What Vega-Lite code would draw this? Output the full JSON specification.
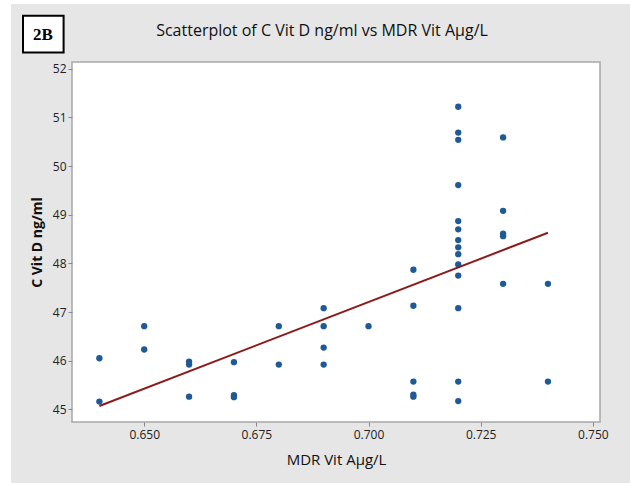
{
  "$schema": "https://vega.github.io/schema/vega-lite/v6.json",
  "width": 528,
  "height": 360,
  "autosize": "none",
  "padding": {"left": 72, "top": 62, "right": 30, "bottom": 61},
  "background": "#e6e6e6",
  "config": {
    "view": {"fill": "white", "stroke": "#a8a8a8", "strokeWidth": 1.5},
    "font": "Open Sans"
  },
  "title": {
    "text": "Scatterplot of C Vit D ng/ml vs MDR Vit Aμg/L",
    "fontSize": 16,
    "fontWeight": "normal",
    "font": "Open Sans",
    "color": "#111111",
    "anchor": "middle",
    "frame": "group",
    "baseline": "alphabetic",
    "offset": -52,
    "dx": -14
  },
  "datasets": {
    "points": [
      {"mdr": 0.64, "vitd": 46.05}, {"mdr": 0.64, "vitd": 45.16},
      {"mdr": 0.65, "vitd": 46.71}, {"mdr": 0.65, "vitd": 46.23},
      {"mdr": 0.66, "vitd": 45.98}, {"mdr": 0.66, "vitd": 45.92}, {"mdr": 0.66, "vitd": 45.26},
      {"mdr": 0.67, "vitd": 45.97}, {"mdr": 0.67, "vitd": 45.29}, {"mdr": 0.67, "vitd": 45.25},
      {"mdr": 0.68, "vitd": 46.71}, {"mdr": 0.68, "vitd": 45.92},
      {"mdr": 0.69, "vitd": 47.08}, {"mdr": 0.69, "vitd": 46.71}, {"mdr": 0.69, "vitd": 46.27}, {"mdr": 0.69, "vitd": 45.92},
      {"mdr": 0.70, "vitd": 46.71},
      {"mdr": 0.71, "vitd": 47.87}, {"mdr": 0.71, "vitd": 47.13}, {"mdr": 0.71, "vitd": 45.57}, {"mdr": 0.71, "vitd": 45.30}, {"mdr": 0.71, "vitd": 45.26},
      {"mdr": 0.72, "vitd": 51.22}, {"mdr": 0.72, "vitd": 50.69}, {"mdr": 0.72, "vitd": 50.54}, {"mdr": 0.72, "vitd": 49.61},
      {"mdr": 0.72, "vitd": 48.87}, {"mdr": 0.72, "vitd": 48.70}, {"mdr": 0.72, "vitd": 48.48}, {"mdr": 0.72, "vitd": 48.33},
      {"mdr": 0.72, "vitd": 48.19}, {"mdr": 0.72, "vitd": 47.98}, {"mdr": 0.72, "vitd": 47.75}, {"mdr": 0.72, "vitd": 47.08},
      {"mdr": 0.72, "vitd": 45.57}, {"mdr": 0.72, "vitd": 45.17},
      {"mdr": 0.73, "vitd": 50.59}, {"mdr": 0.73, "vitd": 49.08}, {"mdr": 0.73, "vitd": 48.61}, {"mdr": 0.73, "vitd": 48.56}, {"mdr": 0.73, "vitd": 47.58},
      {"mdr": 0.74, "vitd": 47.58}, {"mdr": 0.74, "vitd": 45.57}
    ],
    "fit": [
      {"mdr": 0.64, "vitd": 45.07},
      {"mdr": 0.74, "vitd": 48.63}
    ],
    "one": [{"label": "2B"}]
  },
  "encoding": {
    "x": {
      "field": "mdr",
      "type": "quantitative",
      "scale": {"domain": [0.6339, 0.7516], "nice": false, "zero": false},
      "axis": {
        "values": [0.65, 0.675, 0.7, 0.725, 0.75],
        "format": ".3f",
        "title": "MDR Vit Aμg/L",
        "titleFontSize": 15,
        "titleFontWeight": "normal",
        "titleColor": "#111111",
        "titlePadding": 12,
        "labelFontSize": 12,
        "labelColor": "#222222",
        "labelPadding": 3,
        "labelFlush": false,
        "tickSize": 4,
        "tickColor": "#888888",
        "domain": false,
        "grid": false
      }
    },
    "y": {
      "field": "vitd",
      "type": "quantitative",
      "scale": {"domain": [44.74, 52.14], "nice": false, "zero": false},
      "axis": {
        "values": [45, 46, 47, 48, 49, 50, 51, 52],
        "title": "C Vit D ng/ml",
        "titleFontSize": 14,
        "titleFontWeight": "bold",
        "titleColor": "#111111",
        "titlePadding": 8,
        "labelFontSize": 12,
        "labelColor": "#222222",
        "labelPadding": 2,
        "labelFlush": false,
        "tickSize": 4,
        "tickColor": "#888888",
        "domain": false,
        "grid": false
      }
    }
  },
  "layer": [
    {
      "data": {"name": "one"},
      "mark": {"type": "rect", "fill": "white", "stroke": null},
      "encoding": {
        "x": {"value": -72}, "x2": {"value": -61},
        "y": {"value": -62}, "y2": {"value": 421}
      }
    },
    {
      "data": {"name": "one"},
      "mark": {"type": "rect", "fill": "white", "stroke": null},
      "encoding": {
        "x": {"value": -72}, "x2": {"value": 558},
        "y": {"value": -62}, "y2": {"value": -58}
      }
    },
    {
      "data": {"name": "one"},
      "mark": {"type": "rect", "fill": "white", "stroke": "black", "strokeWidth": 2},
      "encoding": {
        "x": {"value": -49}, "x2": {"value": -8.4},
        "y": {"value": -46.3}, "y2": {"value": -9.6}
      }
    },
    {
      "data": {"name": "one"},
      "mark": {"type": "text", "font": "Liberation Serif", "fontWeight": "bold", "fontSize": 17, "align": "center", "baseline": "middle", "color": "black"},
      "encoding": {
        "x": {"value": -29}, "y": {"value": -27.5},
        "text": {"field": "label"}
      }
    },
    {
      "data": {"name": "points"},
      "mark": {"type": "circle", "size": 40, "color": "#1f5a96", "opacity": 1}
    },
    {
      "data": {"name": "fit"},
      "mark": {"type": "line", "color": "#8b1c1c", "strokeWidth": 2}
    }
  ]
}
